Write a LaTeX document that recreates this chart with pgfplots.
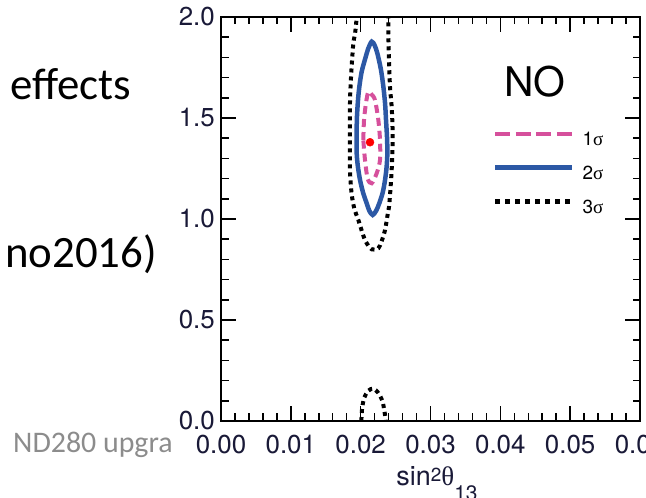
\documentclass[border=0pt]{standalone}
\usepackage{fontspec}
\usepackage{pgfplots}
\pgfplotsset{compat=1.18}
\setmainfont{TeX Gyre Heros}
\newfontfamily\calibri{Carlito}
\newfontfamily\serifsym{Liberation Serif}
\definecolor{ticktext}{RGB}{25,25,55}
\definecolor{oneblue}{RGB}{44,88,165}
\definecolor{onepink}{RGB}{214,80,156}
\definecolor{slidegray}{RGB}{140,140,140}
\begin{document}
\begin{tikzpicture}
\useasboundingbox (0,0) rectangle (646bp,498bp);
% slide text behind the pasted plot
\node[anchor=base west, inner sep=0pt, font=\calibri\fontsize{45}{50}\selectfont] at (10bp,398bp) {effects};
\node[anchor=base east, inner sep=0pt, font=\calibri\fontsize{45}{50}\selectfont] at (157bp,230bp) {no2016)};
\node[anchor=base west, inner sep=0pt, text=slidegray, font=\calibri\fontsize{30}{34}\selectfont] at (13bp,45bp) {ND280 upgra};
\fill[white] (175bp,0bp) rectangle (646bp,498bp);
\begin{axis}[
  at={(221bp,77bp)}, anchor=south west,
  scale only axis, width=419bp, height=404bp,
  xmin=0, xmax=0.06, ymin=0, ymax=2,
  scaled x ticks=false, scaled y ticks=false,
  xtick={0,0.01,0.02,0.03,0.04,0.05,0.06},
  xticklabels={0.00,0.01,0.02,0.03,0.04,0.05,0.06},
  ytick={0,0.5,1,1.5,2},
  yticklabels={0.0,0.5,1.0,1.5,2.0},
  minor x tick num=4, minor y tick num=4,
  tick align=inside,
  major tick length=15bp, minor tick length=7.5bp,
  axis line style={line width=2bp},
  every tick/.style={line width=1.5bp, black},
  tick label style={font=\fontsize{26}{28}\selectfont, text=ticktext, inner sep=0pt},
  xticklabel style={anchor=north, yshift=-14bp},
  yticklabel style={anchor=east, xshift=-6bp},
  /pgf/number format/assume math mode=true,
  xlabel={sin\raisebox{4bp}{\fontsize{19}{20}\selectfont 2}{\serifsym\fontsize{27}{28}\selectfont θ}\raisebox{-15bp}{\fontsize{21}{22}\selectfont 13}},
  xlabel style={at={(axis description cs:0.5155,0)}, anchor=base, yshift=-64bp, inner sep=0pt, font=\fontsize{27}{29}\selectfont, text=ticktext},
  legend style={draw=none, fill=none, inner sep=0pt, outer sep=0pt,
    at={(0.6492,0.716)}, anchor=north west,
    row sep=18bp,
    nodes={inner sep=0pt, outer sep=0pt, font=\fontsize{19}{21}\selectfont},
    font=\fontsize{19}{21}\selectfont,
    /tikz/every odd column/.append style={column sep=8bp}},
  legend cell align=left,
]
\addplot[smooth, onepink, line width=4bp, dash pattern=on 8bp off 5bp,
  legend image code/.code={\draw[onepink, line width=4.5bp, dash pattern=on 15bp off 5.5bp] (0bp,6bp) -- (77bp,6bp);}]
coordinates {
(0.02038,1.391) (0.02048,1.490) (0.02076,1.573) (0.02110,1.630) (0.02160,1.615)
(0.02205,1.589) (0.02253,1.490) (0.02277,1.391) (0.02277,1.292) (0.02229,1.226)
(0.02158,1.177) (0.02100,1.200) (0.02062,1.292) (0.02038,1.391)
};
\addlegendentry{1{\serifsym σ}}
\addplot[smooth, oneblue, line width=4.5bp,
  legend image code/.code={\draw[oneblue, line width=4.5bp] (0bp,6bp) -- (77bp,6bp);}]
coordinates {
(0.01943,1.40) (0.01945,1.49) (0.01960,1.58) (0.01981,1.655) (0.02015,1.73)
(0.02062,1.79) (0.02110,1.845) (0.02158,1.878) (0.02200,1.860) (0.02239,1.820)
(0.02290,1.74) (0.02325,1.655) (0.02350,1.57) (0.02363,1.490) (0.02378,1.40)
(0.02382,1.325) (0.02372,1.26) (0.02349,1.193) (0.02315,1.13) (0.02267,1.078)
(0.02220,1.040) (0.02172,1.020) (0.02125,1.040) (0.02086,1.078) (0.02035,1.13)
(0.01991,1.193) (0.01960,1.26) (0.01943,1.325) (0.01943,1.40)
};
\addlegendentry{2{\serifsym σ}}
\addplot[smooth, black, line width=4bp, dash pattern=on 4bp off 4bp,
  legend image code/.code={\draw[black, line width=4.5bp, dash pattern=on 5bp off 5bp] (0bp,6bp) -- (77bp,6bp);}]
coordinates {
(0.01955,2.10) (0.01943,2.00) (0.01920,1.919) (0.01895,1.870) (0.01870,1.75)
(0.01855,1.655) (0.01847,1.573) (0.01845,1.408) (0.01847,1.243) (0.01870,1.127)
(0.01910,1.050) (0.01967,0.995) (0.02062,0.896) (0.02158,0.850) (0.02253,0.855)
(0.02300,0.890) (0.02349,0.946) (0.02390,1.030) (0.02411,1.078) (0.02444,1.243)
(0.02458,1.408) (0.02445,1.55) (0.02420,1.655) (0.02405,1.80) (0.02396,1.919)
(0.02396,2.00) (0.02400,2.10)
};
\addlegendentry{3{\serifsym σ}}
\addplot[smooth, black, line width=4bp, dash pattern=on 4bp off 4bp, forget plot]
coordinates {
(0.0201,0.0) (0.0202,0.06) (0.0205,0.115) (0.0211,0.150) (0.0218,0.160)
(0.0225,0.140) (0.0231,0.100) (0.0234,0.050) (0.0236,0.0)
};
\addplot[only marks, mark=*, red, mark size=4bp, forget plot]
coordinates {(0.02134,1.380)};
\node[anchor=base west, inner sep=0pt, font=\fontsize{41}{44}\selectfont] at (rel axis cs:0.675,0.8027) {NO};
\end{axis}
\end{tikzpicture}
\end{document}
